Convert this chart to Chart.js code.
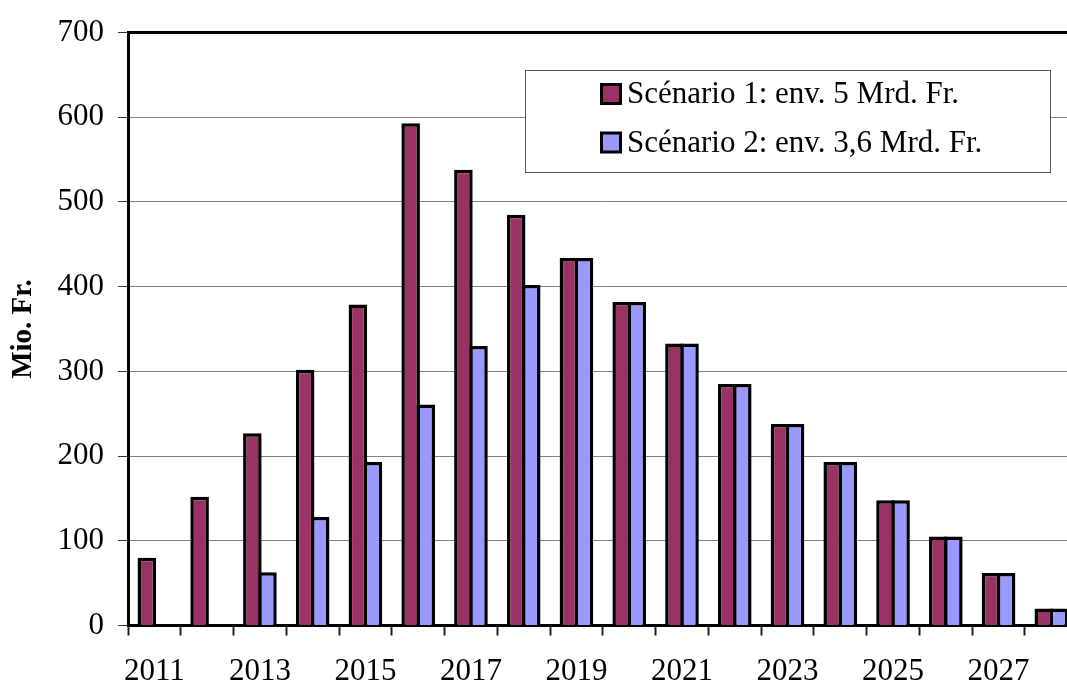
<!DOCTYPE html>
<html>
<head>
<meta charset="utf-8">
<title>Mio. Fr.</title>
<script src="https://cdn.jsdelivr.net/npm/chart.js@4/dist/chart.umd.min.js"></script>
<style>
  html, body { margin: 0; padding: 0; background: #fff; overflow: hidden; }
  #wrap { width: 1092px; height: 682px; }
</style>
</head>
<body>
<div id="wrap"><canvas id="c" width="1092" height="682"></canvas></div>
<script>
// Annual amounts in millions of francs
const years = ['2011','2012','2013','2014','2015','2016','2017','2018','2019',
               '2020','2021','2022','2023','2024','2025','2026','2027','2028'];
const scenario1 = [80, 152, 227, 302, 379, 593, 538, 485, 434, 382, 333, 285, 238, 193, 148, 105, 62, 20];
const scenario2 = [null, null, 63, 128, 193, 261, 330, 402, 434, 382, 333, 285, 238, 193, 148, 105, 62, 20];
const seriesNames = ['Scénario 1: env. 5 Mrd. Fr.', 'Scénario 2: env. 3,6 Mrd. Fr.'];
const seriesColors = ['#993366', '#9999FF'];
const yTicks = { min: 0, max: 700, step: 100 };
const yTitle = 'Mio. Fr.';

const FONT = "'Liberation Serif', 'Times New Roman', serif";
const EDGE = 3.5;          // outline width of bars
const GROUP = 4 / 7;       // share of a category taken by a pair of bars

// Boxed legend inside the plot, upper right
const boxLegend = {
  id: 'boxLegend',
  afterDraw(chart) {
    const ctx = chart.ctx;
    const x0 = 525, y0 = 70, w = 525, h = 102;
    ctx.save();
    ctx.fillStyle = '#fff';
    ctx.fillRect(x0, y0, w, h);
    ctx.strokeStyle = '#555';
    ctx.lineWidth = 1;
    ctx.strokeRect(x0 + 0.5, y0 + 0.5, w, h);
    ctx.font = '31px ' + FONT;
    ctx.textBaseline = 'middle';
    ctx.textAlign = 'left';
    chart.data.datasets.forEach((ds, i) => {
      const cy = 94 + i * 48.5;
      ctx.fillStyle = ds.backgroundColor;
      ctx.fillRect(601, cy - 10, 20, 20);
      ctx.strokeStyle = '#000';
      ctx.lineWidth = 3;
      ctx.strokeRect(601.5, cy - 9.5, 19, 19);
      ctx.fillStyle = '#000';
      ctx.fillText(ds.label, 627, cy + 1);
    });
    ctx.restore();
  }
};

new Chart(document.getElementById('c'), {
  type: 'bar',
  data: {
    labels: years,
    datasets: [
      { label: seriesNames[0], data: scenario1, backgroundColor: seriesColors[0],
        borderColor: '#000', borderWidth: EDGE, borderSkipped: 'start' },
      { label: seriesNames[1], data: scenario2, backgroundColor: seriesColors[1],
        borderColor: '#000', borderWidth: EDGE, borderSkipped: 'start' }
    ]
  },
  options: {
    responsive: false,
    animation: false,
    devicePixelRatio: 1,
    layout: { padding: { top: 29.5, right: 14.3, left: 0, bottom: 0 } },
    // bars of a pair overlap by one outline so they share the middle edge
    datasets: { bar: { categoryPercentage: GROUP, barPercentage: 1 + EDGE / 15.08 } },
    plugins: { legend: { display: false }, tooltip: { enabled: false } },
    scales: {
      x: {
        z: 1,
        grid: { offset: true, drawOnChartArea: false, tickLength: 10,
                tickColor: '#222', tickWidth: 2 },
        border: { display: true, color: '#000', width: 3 },
        ticks: {
          autoSkip: false, maxRotation: 0, padding: 18, color: '#000',
          font: { family: FONT, size: 31 },
          callback: (v, i) => (i % 2 === 0 ? years[i] : '')
        },
        afterFit: s => { s.height = 56.5; }
      },
      y: {
        min: yTicks.min, max: yTicks.max,
        ticks: { stepSize: yTicks.step, padding: 14, color: '#000',
                 font: { family: FONT, size: 31 } },
        grid: {
          color: c => (c.tick && c.tick.value === yTicks.max ? '#000' : '#808080'),
          lineWidth: c => (c.tick && c.tick.value === yTicks.max ? 3 : 1),
          tickColor: '#333', tickLength: 10, tickWidth: 1
        },
        border: { display: true, color: '#000', width: 3 },
        title: { display: true, text: yTitle, color: '#000',
                 font: { family: FONT, size: 29, weight: 'bold' },
                 padding: { top: 6, bottom: 4 } },
        afterFit: s => { s.width = 128; }
      }
    }
  },
  plugins: [boxLegend]
});
</script>
</body>
</html>
